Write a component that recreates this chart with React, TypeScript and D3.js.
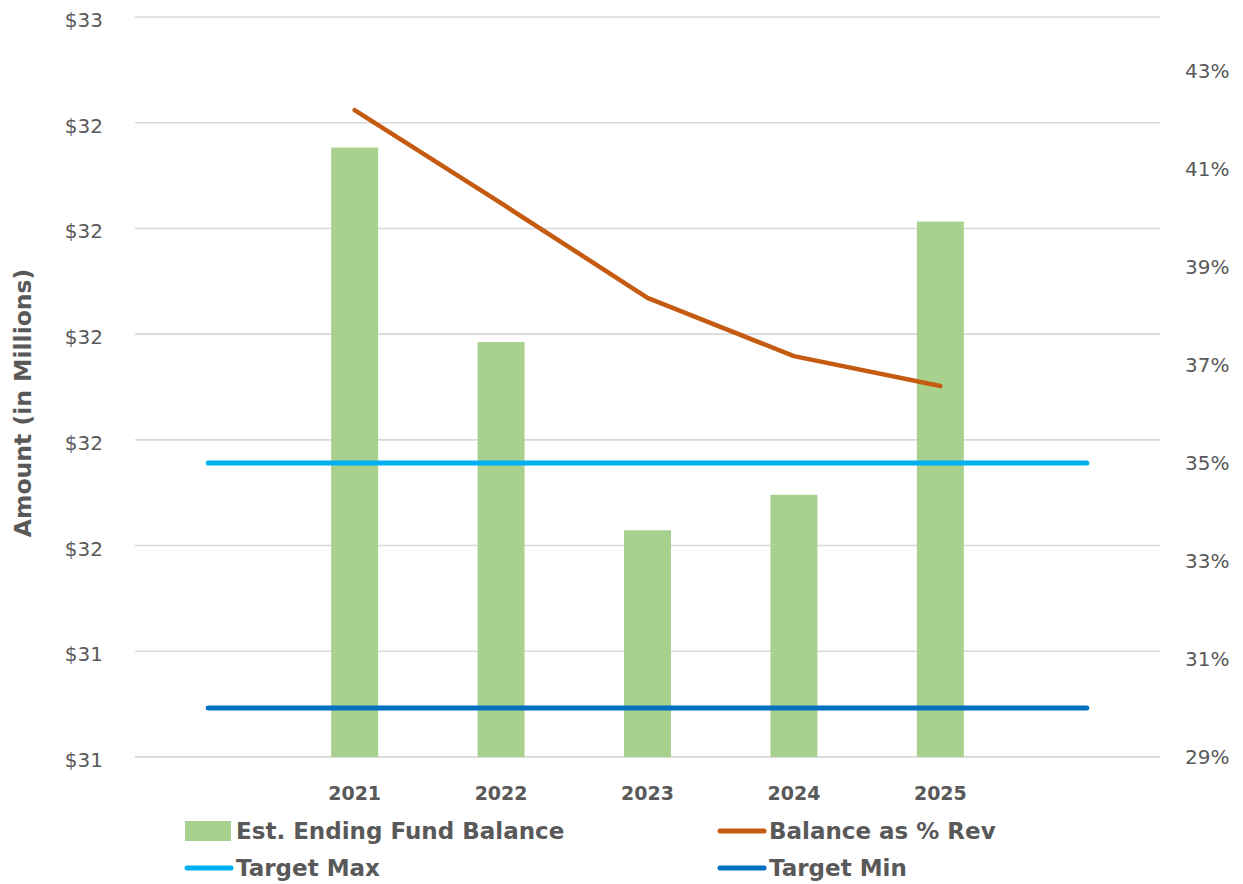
import React from "react";
import * as d3 from "d3";

// ---- Data ----
const categories = ["", "2021", "2022", "2023", "2024", "2025", ""];
const fundBalance: (number | null)[] = [null, 32.353, 31.985, 31.629, 31.696, 32.213, null];
const balancePctRev: (number | null)[] = [null, 42.2, 40.3, 38.37, 37.18, 36.57, null];
const targetMax = [35, 35, 35, 35, 35, 35, 35];
const targetMin = [30, 30, 30, 30, 30, 30, 30];

const leftTickValues = [31.2, 31.4, 31.6, 31.8, 32.0, 32.2, 32.4, 32.6];
const rightTickValues = [29, 31, 33, 35, 37, 39, 41, 43];
const leftDomain: [number, number] = [31.2, 32.6];
const rightDomain: [number, number] = [29, 44.1];

const legendItems = [
  { label: "Est. Ending Fund Balance", kind: "rect", color: "#a9d18e" },
  { label: "Balance as % Rev", kind: "line", color: "#c55a11" },
  { label: "Target Max", kind: "line", color: "#00b0f0" },
  { label: "Target Min", kind: "line", color: "#0070c0" },
];

const W = 1243;
const H = 884;
const plot = { left: 135, right: 1160, top: 17, bottom: 757 };
const textColor = "#595959";
const fontRegular = "'DejaVu Sans', sans-serif";
const fontBold = "'DejaVu Sans', sans-serif";

export default function App() {
  const idx = d3.range(categories.length);
  const x = d3
    .scaleBand<number>()
    .domain(idx)
    .range([plot.left, plot.right])
    .paddingInner(0)
    .paddingOuter(0);
  const step = x.step();
  const barW = 47;
  const cx = (i: number) => (x(i) as number) + step / 2;

  const yL = d3.scaleLinear().domain(leftDomain).range([plot.bottom, plot.top]);
  const yR = d3.scaleLinear().domain(rightDomain).range([plot.bottom, plot.top]);

  const fmtL = (v: number) => "$" + d3.format(".0f")(v);
  const fmtR = (v: number) => d3.format(".0f")(v) + "%";

  const lineR = d3
    .line<number | null>()
    .defined((d) => d !== null)
    .x((_, i) => cx(i))
    .y((d) => yR(d as number));

  return (
    <svg width={W} height={H} style={{ position: "absolute", left: 0, top: 0, background: "#fff" }}>
      <rect x={0} y={0} width={W} height={H} fill="#fff" />
      {/* gridlines */}
      {leftTickValues.map((v, i) => (
        <line
          key={"g" + i}
          x1={plot.left}
          x2={plot.right}
          y1={yL(v)}
          y2={yL(v)}
          stroke={i === 0 ? "#d0d0d0" : "#d9d9d9"}
          strokeWidth={1.6}
        />
      ))}
      {/* left tick labels */}
      {leftTickValues.map((v, i) => (
        <text
          key={"lt" + i}
          x={103}
          y={yL(v)}
          dy="0.5em"
          textAnchor="end"
          fontFamily={fontRegular}
          fontSize={20}
          fill={textColor}
        >
          {fmtL(v)}
        </text>
      ))}
      {/* right tick labels */}
      {rightTickValues.map((v, i) => (
        <text
          key={"rt" + i}
          x={1185}
          y={yR(v)}
          dy="0.35em"
          textAnchor="start"
          fontFamily={fontRegular}
          fontSize={20}
          fill={textColor}
        >
          {fmtR(v)}
        </text>
      ))}
      {/* y axis title */}
      <text
        transform={`translate(31, ${(plot.top + plot.bottom) / 2 + 16}) rotate(-90)`}
        textAnchor="middle"
        fontFamily={fontBold}
        fontWeight="bold"
        fontSize={23.5}
        fill={textColor}
      >
        Amount (in Millions)
      </text>
      {/* bars */}
      {fundBalance.map((v, i) =>
        v === null ? null : (
          <rect
            key={"b" + i}
            x={cx(i) - barW / 2}
            y={yL(v)}
            width={barW}
            height={plot.bottom - yL(v)}
            fill="#a9d18e"
          />
        )
      )}
      {/* target lines */}
      <path
        d={lineR(targetMin) || ""}
        fill="none"
        stroke="#0070c0"
        strokeWidth={5}
        strokeLinecap="round"
      />
      <path
        d={lineR(targetMax) || ""}
        fill="none"
        stroke="#00b0f0"
        strokeWidth={5}
        strokeLinecap="round"
      />
      {/* balance as % rev */}
      <path
        d={lineR(balancePctRev) || ""}
        fill="none"
        stroke="#c55a11"
        strokeWidth={4.5}
        strokeLinecap="round"
        strokeLinejoin="round"
      />
      {/* category labels */}
      {categories.map((c, i) =>
        c ? (
          <text
            key={"c" + i}
            x={cx(i)}
            y={793}
            dy="0.36em"
            textAnchor="middle"
            fontFamily={fontBold}
            fontWeight="bold"
            fontSize={19}
            fill={textColor}
          >
            {c}
          </text>
        ) : null
      )}
      {/* legend */}
      {legendItems.map((item, i) => {
        const col = i % 2;
        const row = Math.floor(i / 2);
        const sx = col === 0 ? 185 : 718;
        const sy = row === 0 ? 831 : 868;
        return (
          <g key={"lg" + i}>
            {item.kind === "rect" ? (
              <rect x={sx} y={sy - 10} width={46} height={20} fill={item.color} />
            ) : (
              <line
                x1={sx + 2}
                x2={sx + 46}
                y1={sy}
                y2={sy}
                stroke={item.color}
                strokeWidth={5}
                strokeLinecap="round"
              />
            )}
            <text
              x={sx + 51}
              y={sy + 8}
              fontFamily={fontBold}
              fontWeight="bold"
              fontSize={23}
              fill={textColor}
            >
              {item.label}
            </text>
          </g>
        );
      })}
    </svg>
  );
}
